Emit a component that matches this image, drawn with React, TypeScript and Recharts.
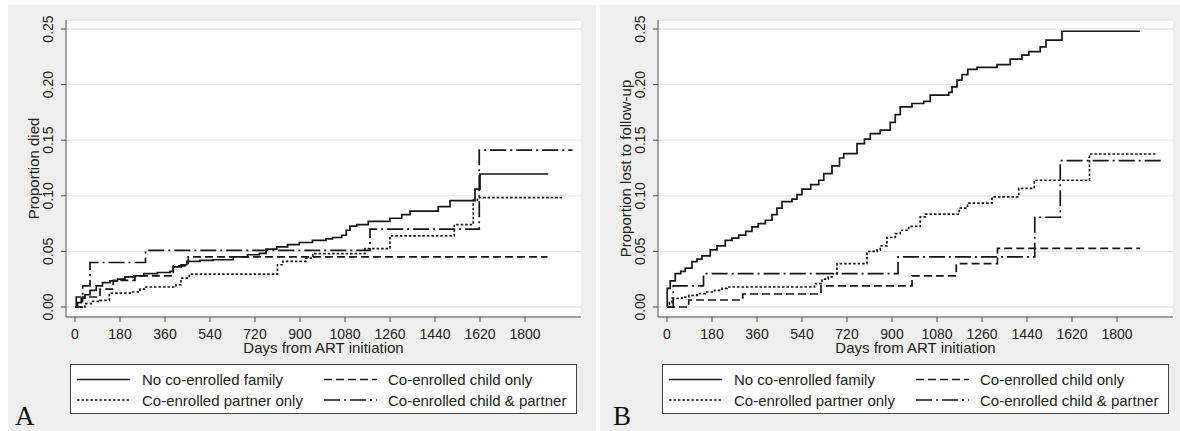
/* eslint-disable @typescript-eslint/no-explicit-any */
import { CartesianGrid, Line, LineChart, XAxis, YAxis } from "recharts";

type Pt = [number, number];

const dayTicks = [0, 180, 360, 540, 720, 900, 1080, 1260, 1440, 1620, 1800];
const propTicks = [0, 0.05, 0.1, 0.15, 0.2, 0.25];

const groupNames = [
  "No co-enrolled family",
  "Co-enrolled child only",
  "Co-enrolled partner only",
  "Co-enrolled child & partner",
];

// Panel A - proportion died (day, cumulative proportion)
const diedNone: Pt[] = [
  [0, 0], [10, 0.004], [25, 0.008], [40, 0.011], [60, 0.015], [85, 0.019],
  [110, 0.022], [140, 0.0235], [170, 0.025], [200, 0.027], [235, 0.028],
  [275, 0.03], [330, 0.031], [380, 0.032], [393, 0.036], [425, 0.038],
  [447, 0.041], [500, 0.042], [553, 0.0425], [633, 0.045], [690, 0.047],
  [737, 0.0482], [764, 0.052], [807, 0.054], [850, 0.056], [897, 0.058],
  [950, 0.06], [1004, 0.0612], [1030, 0.0625], [1067, 0.0645], [1085, 0.069],
  [1100, 0.0728], [1127, 0.074], [1173, 0.077], [1260, 0.0798], [1307, 0.083],
  [1340, 0.0863], [1453, 0.0902], [1500, 0.0956], [1600, 0.106],
  [1620, 0.1196], [1893, 0.1196],
];
const diedChild: Pt[] = [
  [0, 0], [30, 0.009], [100, 0.016], [153, 0.024], [240, 0.028],
  [393, 0.037], [453, 0.045], [1890, 0.045],
];
const diedPartner: Pt[] = [
  [0, 0], [40, 0.003], [70, 0.005], [100, 0.006], [137, 0.0125], [231, 0.0135],
  [260, 0.016], [284, 0.018], [404, 0.02], [424, 0.026], [457, 0.0295],
  [797, 0.0295], [810, 0.038], [831, 0.041], [924, 0.044], [951, 0.048],
  [1160, 0.0525], [1260, 0.064], [1517, 0.074], [1593, 0.0962],
  [1610, 0.0983], [1951, 0.0983],
];
const diedBoth: Pt[] = [
  [0, 0], [5, 0.009], [31, 0.019], [60, 0.04], [282, 0.051], [1180, 0.07],
  [1617, 0.141], [1990, 0.141],
];

// Panel B - proportion lost to follow-up
const ltfuNone: Pt[] = [
  [0, 0], [1, 0.0168], [13, 0.0235], [33, 0.03], [55, 0.032], [73, 0.035],
  [100, 0.0408], [120, 0.043], [140, 0.046], [173, 0.0513], [200, 0.055],
  [233, 0.06], [260, 0.062], [287, 0.0647], [315, 0.068], [340, 0.072],
  [365, 0.075], [393, 0.078], [420, 0.083], [440, 0.089], [460, 0.0947],
  [500, 0.097], [520, 0.101], [540, 0.106], [575, 0.11], [607, 0.114],
  [627, 0.12], [660, 0.127], [690, 0.134], [707, 0.138], [760, 0.147],
  [790, 0.151], [813, 0.156], [853, 0.159], [893, 0.166], [913, 0.173],
  [933, 0.18], [980, 0.183], [1027, 0.185], [1053, 0.1906], [1127, 0.193],
  [1140, 0.198], [1160, 0.204], [1180, 0.209], [1203, 0.2137], [1240, 0.2155],
  [1320, 0.218], [1373, 0.223], [1420, 0.2266], [1447, 0.2296], [1493, 0.234],
  [1516, 0.24], [1580, 0.248], [1891, 0.248],
];
const ltfuChild: Pt[] = [
  [0, 0], [87, 0.0063], [303, 0.0117], [616, 0.019], [980, 0.028],
  [1157, 0.039], [1322, 0.0528], [1893, 0.0528],
];
const ltfuPartner: Pt[] = [
  [0, 0], [10, 0.004], [20, 0.0078], [60, 0.009], [87, 0.0105], [120, 0.012],
  [153, 0.0135], [190, 0.015], [220, 0.0168], [240, 0.018], [580, 0.018],
  [590, 0.021], [620, 0.025], [645, 0.027], [660, 0.03], [680, 0.039],
  [793, 0.039], [800, 0.05], [840, 0.0512], [853, 0.055], [880, 0.0625],
  [913, 0.066], [933, 0.069], [967, 0.0725], [1013, 0.081], [1033, 0.0836],
  [1169, 0.089], [1202, 0.0934], [1300, 0.099], [1407, 0.1067], [1469, 0.114],
  [1690, 0.1376], [1960, 0.1376],
];
const ltfuBoth: Pt[] = [
  [0, 0], [25, 0.019], [146, 0.03], [924, 0.045], [1471, 0.0807],
  [1573, 0.1316], [1987, 0.1316],
];

const FONT = '"Liberation Sans", Arial, Helvetica, sans-serif';
const INK = "#161616";
const dashes = [undefined, "8 4", "2.5 2", "16 4 2 4"];

const toRows = (pts: Pt[]) => pts.map(([day, p]) => ({ day, p }));

const YTick = (props: any) => {
  const { x, y, payload } = props;
  const bx = x - 8;
  return (
    <text
      x={bx}
      y={y}
      transform={`rotate(-90 ${bx} ${y})`}
      textAnchor="middle"
      fontSize={14}
      fill="#222"
    >
      {payload.value.toFixed(2)}
    </text>
  );
};

const LegendKey = ({ x, y, dash }: any) => (
  <line x1={x} x2={x + 53} y1={y} y2={y} stroke={INK} strokeWidth={1.6} strokeDasharray={dash} />
);

function Panel({ left, letter, letterX, yTitle, series }: any) {
  return (
    <div style={{ position: "absolute", left, top: 0, width: 592, height: 431 }}>
      <div style={{ position: "absolute", left: 8, top: 5, width: 588, height: 426, background: "#efefef" }} />
      <div style={{ position: "absolute", left: 8, top: 5 }}>
        <LineChart width={583} height={342} margin={{ top: 15, right: 10, bottom: 0, left: 0 }}>
          <CartesianGrid vertical={false} fill="#fff" stroke="#e6e6e6" strokeWidth={1.3} />
          <XAxis
            type="number"
            dataKey="day"
            domain={[-36, 2024]}
            allowDataOverflow
            ticks={dayTicks}
            interval={0}
            height={30}
            tickSize={5}
            tickMargin={7}
            stroke="#555"
            tick={{ fill: "#222", fontSize: 14 }}
          />
          <YAxis
            type="number"
            domain={[-0.009, 0.2581]}
            allowDataOverflow
            ticks={propTicks}
            interval={0}
            width={58}
            tickSize={5}
            tickMargin={0}
            stroke="#555"
            tick={<YTick />}
          />
          {series.map((pts: Pt[], i: number) => (
            <Line
              key={groupNames[i]}
              name={groupNames[i]}
              data={toRows(pts)}
              dataKey="p"
              type="stepAfter"
              stroke={INK}
              strokeWidth={1.7}
              strokeDasharray={dashes[i]}
              dot={false}
              activeDot={false}
              isAnimationActive={false}
            />
          ))}
        </LineChart>
      </div>
      <svg
        width={592}
        height={431}
        style={{ position: "absolute", left: 0, top: 0, pointerEvents: "none" }}
      >
        <text x={39} y={168.5} transform="rotate(-90 39 168.5)" textAnchor="middle" fontSize={15} fill="#222">
          {yTitle}
        </text>
        <text x={323.5} y={353} textAnchor="middle" fontSize={15} fill="#222">
          Days from ART initiation
        </text>
        <rect x={70.5} y={364.5} width={506} height={49} fill="#fff" stroke="#444" />
        <LegendKey x={77} y={379.5} dash={dashes[0]} />
        <text x={142} y={385} fontSize={15} fill="#222">{groupNames[0]}</text>
        <LegendKey x={324} y={379.5} dash={dashes[1]} />
        <text x={388} y={385} fontSize={15} fill="#222">{groupNames[1]}</text>
        <LegendKey x={77} y={400} dash={dashes[2]} />
        <text x={142} y={405.5} fontSize={15} fill="#222">{groupNames[2]}</text>
        <LegendKey x={324} y={400} dash={dashes[3]} />
        <text x={388} y={405.5} fontSize={15} fill="#222">{groupNames[3]}</text>
        <text x={letterX} y={425} fontSize={27} fontFamily='"Liberation Serif", "Times New Roman", serif' fill="#111">
          {letter}
        </text>
      </svg>
    </div>
  );
}

export default function App() {
  return (
    <div
      style={{
        position: "absolute",
        left: 0,
        top: 0,
        width: 1180,
        height: 431,
        overflow: "hidden",
        background: "#fff",
        fontFamily: FONT,
      }}
    >
      <Panel
        left={0}
        letter="A"
        letterX={15}
        yTitle="Proportion died"
        series={[diedNone, diedChild, diedPartner, diedBoth]}
      />
      <Panel
        left={592}
        letter="B"
        letterX={21}
        yTitle="Proportion lost to follow-up"
        series={[ltfuNone, ltfuChild, ltfuPartner, ltfuBoth]}
      />
    </div>
  );
}
